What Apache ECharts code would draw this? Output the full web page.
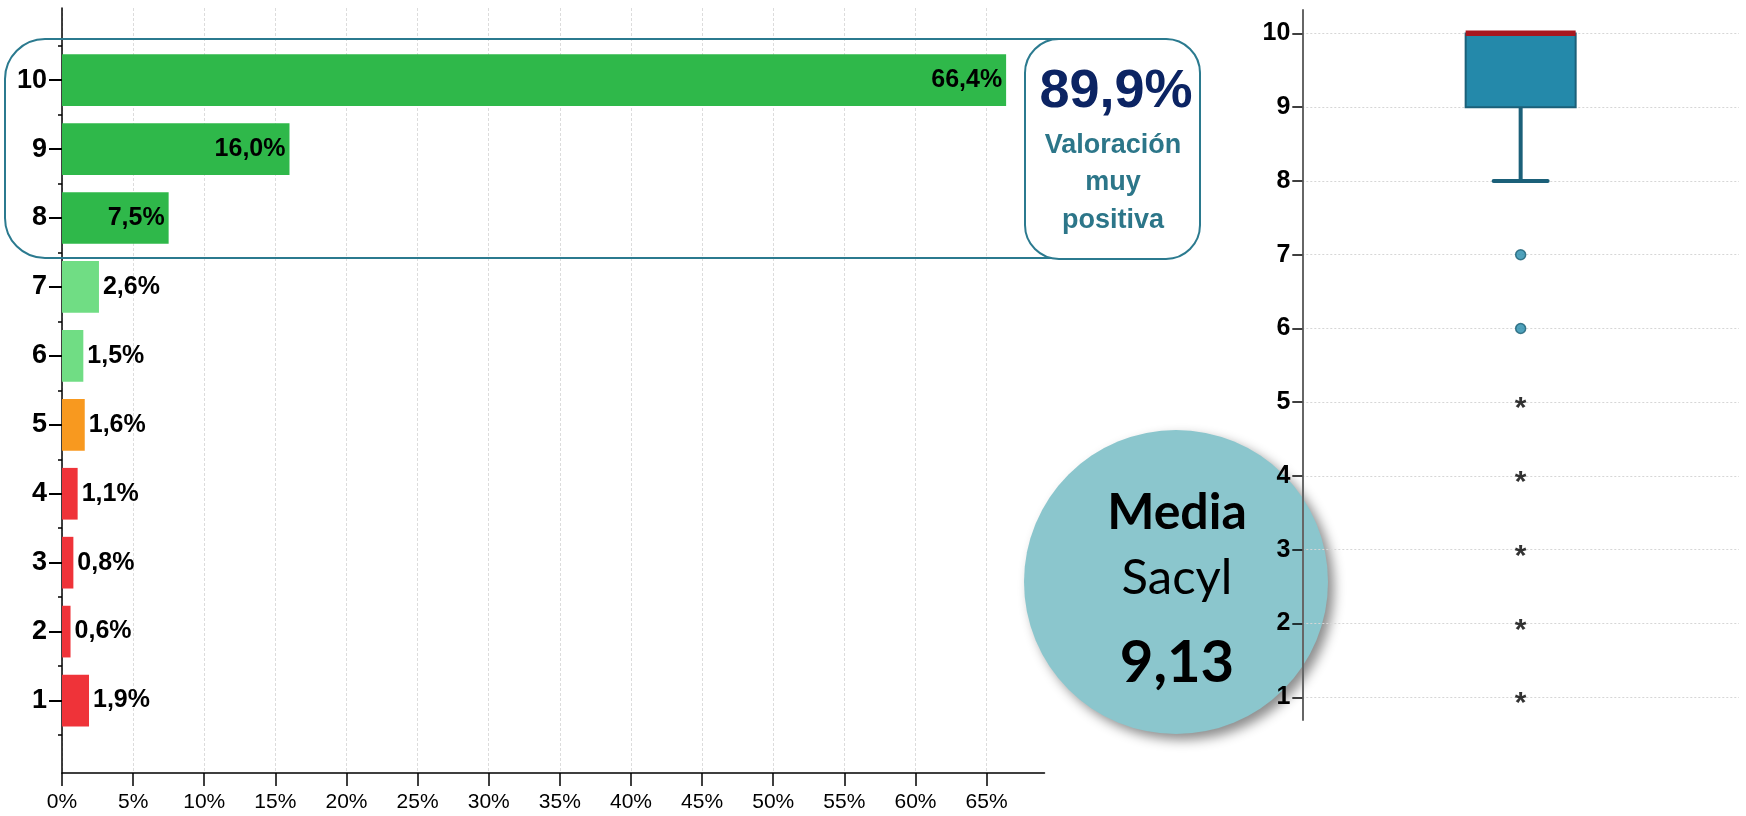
<!DOCTYPE html>
<html>
<head>
<meta charset="utf-8">
<title>Valoración Sacyl</title>
<script src="https://cdn.jsdelivr.net/npm/echarts@6/dist/echarts.min.js"></script>
<style>
  html, body { margin: 0; padding: 0; background: #fff; }
  #chart { width: 1746px; height: 816px; }
</style>
</head>
<body>
<div id="chart"></div>
<script>
// datos de la distribución de puntuaciones
const categories = ['1', '2', '3', '4', '5', '6', '7', '8', '9', '10'];
const percentValues = [1.9, 0.6, 0.8, 1.1, 1.6, 1.5, 2.6, 7.5, 16.0, 66.4];
const barColors = ['#ef3339', '#ef3339', '#ef3339', '#ef3339', '#f8991f',
                   '#70dd84', '#70dd84', '#2fb84a', '#2fb84a', '#2fb84a'];
const insideLabels = ['8', '9', '10']; // etiquetas dentro de la barra

// diagrama de caja: [min, Q1, mediana, Q3, max]
const boxStats = [8, 9, 10, 10, 10];
const outlierValues = [7, 6];
const extremeValues = [5, 4, 3, 2, 1];

const highlightText = '89,9%';
const meanText = '9,13';

const FONT = "'Liberation Sans', Arial, sans-serif";
const chart = echarts.init(document.getElementById('chart'));

// formato con coma decimal
function pct(v) {
  return v.toFixed(1).replace('.', ',') + '%';
}

const barData = percentValues.map((v, i) => {
  const inside = insideLabels.indexOf(categories[i]) >= 0;
  return {
    value: v,
    itemStyle: { color: barColors[i] },
    label: { position: inside ? 'insideRight' : 'right', distance: 4 }
  };
});

chart.setOption({
  animation: false,
  grid: [
    { left: 62, right: 701.5, top: 8, bottom: 43 },     // marco eje izq
    { left: 62, right: 759.4, top: 8, bottom: 43 },     // ticks eje x 0-65
    { left: 62, right: 701.5, top: 45.7, bottom: 81 },  // barras
    { left: 62, right: 701.5, top: 45.7, bottom: 81 },  // ticks de separación
    { left: 1302.3, right: 7, top: 10, bottom: 96 },    // marco diagrama de caja
    { left: 1302.3, right: 7, top: 33.3, bottom: 118.7 } // ticks 1-10
  ],
  xAxis: [
    { gridIndex: 0, type: 'value', min: 0, max: 69.1,
      axisLine: { show: true, lineStyle: { color: '#000', width: 1.5 } },
      axisTick: { show: false }, axisLabel: { show: false }, splitLine: { show: false } },
    { gridIndex: 1, type: 'value', min: 0, max: 65, interval: 5,
      axisLine: { show: false },
      axisTick: { show: true, length: 13, lineStyle: { color: '#000', width: 1.5 } },
      axisLabel: { formatter: '{value}%', fontFamily: FONT, fontSize: 21, color: '#000', margin: 19 },
      splitLine: { show: true, lineStyle: { color: '#dcdcdc', width: 1, type: [3, 2] } } },
    { gridIndex: 2, type: 'value', min: 0, max: 69.1, show: false },
    { gridIndex: 3, type: 'value', min: 0, max: 69.1, show: false },
    { gridIndex: 4, type: 'category', data: ['Sacyl'], show: false },
    { gridIndex: 5, type: 'category', data: ['Sacyl'], show: false }
  ],
  yAxis: [
    { gridIndex: 0, type: 'value',
      axisLine: { show: true, lineStyle: { color: '#000', width: 1.5 } },
      axisTick: { show: false }, axisLabel: { show: false }, splitLine: { show: false } },
    { gridIndex: 1, type: 'value', show: false },
    { gridIndex: 2, type: 'category', data: categories,
      axisLine: { show: false },
      axisTick: { show: true, alignWithLabel: true, length: 13, lineStyle: { color: '#000', width: 2 } },
      axisLabel: { fontFamily: FONT, fontSize: 27, fontWeight: 'bold', color: '#000', margin: 15 } },
    { gridIndex: 3, type: 'category', data: categories,
      axisLine: { show: false },
      axisTick: { show: true, length: 4, lineStyle: { color: '#000', width: 1.5 } },
      axisLabel: { show: false } },
    { gridIndex: 4, type: 'value', min: 0.69, max: 10.32,
      axisLine: { show: true, lineStyle: { color: '#666', width: 2 } },
      axisTick: { show: false }, axisLabel: { show: false }, splitLine: { show: false } },
    { gridIndex: 5, type: 'value', min: 1, max: 10, interval: 1,
      axisLine: { show: false },
      axisTick: { show: true, length: 10, lineStyle: { color: '#000', width: 1.5 } },
      axisLabel: { fontFamily: FONT, fontSize: 25, fontWeight: 'bold', color: '#000', margin: 12 },
      splitLine: { show: true, lineStyle: { color: '#d6d6d6', width: 1, type: [2, 2] } } }
  ],
  series: [
    {
      name: 'Porcentaje',
      type: 'bar',
      xAxisIndex: 2, yAxisIndex: 2,
      barCategoryGap: '25%',
      data: barData,
      label: {
        show: true,
        fontFamily: FONT, fontSize: 25, fontWeight: 'bold', color: '#000',
        formatter: p => pct(p.value)
      }
    },
    {
      // caja + bigote + mediana
      name: 'Caja',
      type: 'custom',
      xAxisIndex: 4, yAxisIndex: 4,
      data: [[0].concat(boxStats)],
      renderItem: function (params, api) {
        const x = api.coord([0, api.value(2)])[0];
        const yMin = api.coord([0, api.value(1)])[1];
        const yQ1 = api.coord([0, api.value(2)])[1];
        const yMed = api.coord([0, api.value(3)])[1];
        const yQ3 = api.coord([0, api.value(4)])[1];
        const half = 55;
        return {
          type: 'group',
          children: [
            { type: 'line', shape: { x1: x, y1: yQ1, x2: x, y2: yMin },
              style: { stroke: '#1b6079', lineWidth: 4 } },
            { type: 'line', shape: { x1: x - 27, y1: yMin, x2: x + 27, y2: yMin },
              style: { stroke: '#1b6079', lineWidth: 4, lineCap: 'round' } },
            { type: 'rect', shape: { x: x - half, y: yQ3, width: half * 2, height: yQ1 - yQ3 },
              style: { fill: '#2489aa', stroke: '#1b6079', lineWidth: 2 } },
            { type: 'rect', shape: { x: x - half, y: yMed - 3, width: half * 2, height: 5.5 },
              style: { fill: '#a8171f' } }
          ]
        };
      }
    },
    {
      name: 'Atípicos',
      type: 'scatter',
      xAxisIndex: 4, yAxisIndex: 4,
      symbol: 'circle', symbolSize: 10,
      itemStyle: { color: '#2389aa', borderColor: '#1a5f74', borderWidth: 1.5 },
      data: outlierValues.map(v => [0, v])
    },
    {
      name: 'Extremos',
      type: 'scatter',
      xAxisIndex: 4, yAxisIndex: 4,
      symbolSize: 0,
      label: {
        show: true, position: 'inside', formatter: '*',
        fontFamily: FONT, fontSize: 30, fontWeight: 'bold', color: '#000', offset: [0, 7]
      },
      data: extremeValues.map(v => [0, v])
    }
  ],
  graphic: [
    // recuadro 8-10
    { type: 'rect', z: 5, shape: { x: 5, y: 39, width: 1195, height: 219, r: 40 },
      style: { fill: 'none', stroke: '#2b7a8f', lineWidth: 2 } },
    { type: 'rect', z: 6, shape: { x: 1025, y: 39, width: 175, height: 220, r: 34 },
      style: { fill: '#fff', stroke: '#2b7a8f', lineWidth: 2 } },
    { type: 'text', z: 7, x: 1116, y: 92,
      style: { text: highlightText, fill: '#0c2463', font: 'bold 54px ' + FONT,
               textAlign: 'center', textVerticalAlign: 'middle' } },
    { type: 'text', z: 7, x: 1113, y: 183,
      style: { text: 'Valoración\nmuy\npositiva', fill: '#2c7689', font: 'bold 27px ' + FONT,
               lineHeight: 37.5, textAlign: 'center', textVerticalAlign: 'middle' } },
    // círculo de la media
    { type: 'circle', z: -1, shape: { cx: 1176, cy: 582, r: 152 },
      style: { fill: '#8bc6cd', shadowBlur: 12, shadowOffsetX: 6, shadowOffsetY: 6,
               shadowColor: 'rgba(0,0,0,0.45)' } },
    { type: 'text', z: -1, x: 1177, y: 513,
      style: { text: 'Media', fill: '#000', font: 'bold 50px Lato, sans-serif',
               textAlign: 'center', textVerticalAlign: 'middle' } },
    { type: 'text', z: -1, x: 1177, y: 578,
      style: { text: 'Sacyl', fill: '#000', font: '49px Lato, sans-serif',
               textAlign: 'center', textVerticalAlign: 'middle' } },
    { type: 'text', z: -1, x: 1177, y: 663,
      style: { text: meanText, fill: '#000', font: 'bold 58px Lato, sans-serif',
               textAlign: 'center', textVerticalAlign: 'middle' } }
  ]
});
</script>
</body>
</html>
